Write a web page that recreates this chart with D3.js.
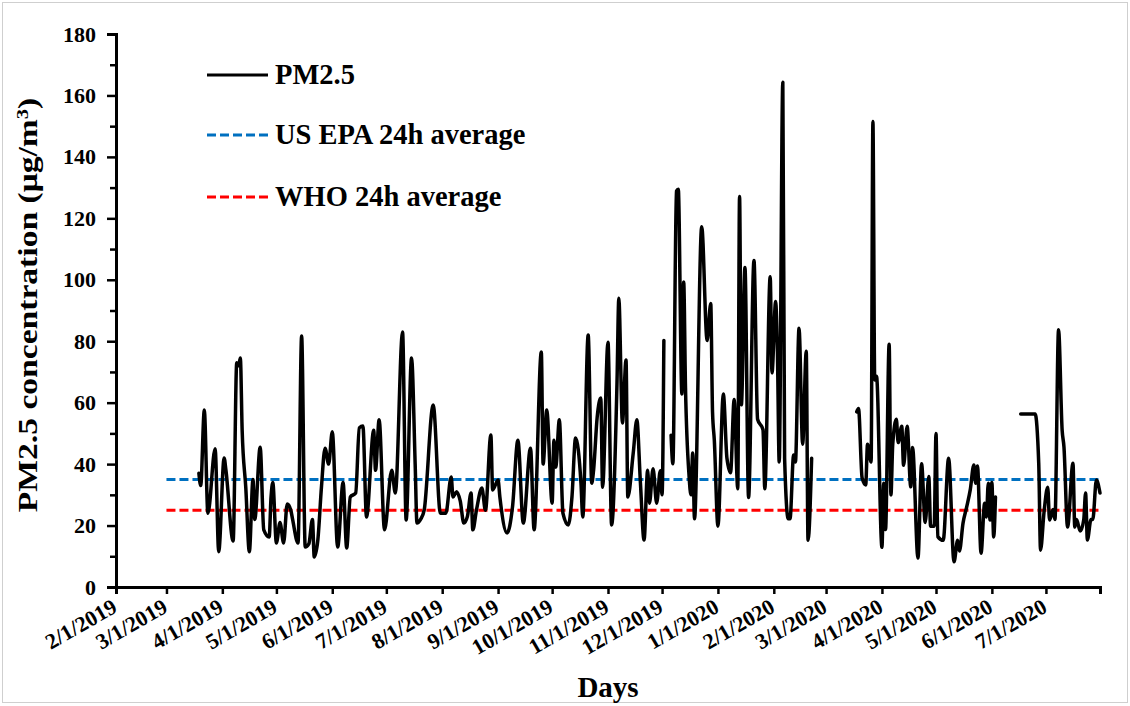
<!DOCTYPE html>
<html><head><meta charset="utf-8">
<script src="https://cdn.jsdelivr.net/npm/d3@7"></script>
<style>
body{margin:0;background:#fff}
text{font-family:"Liberation Serif","Times New Roman",serif;font-weight:bold;fill:#000}
</style>
</head><body><svg id="chart" width="1130" height="706"></svg>
<script>
const dates = [
"2019-03-19","2019-03-20","2019-03-22","2019-03-24","2019-03-28","2019-03-30","2019-04-02","2019-04-03","2019-04-07","2019-04-09",
"2019-04-10","2019-04-11","2019-04-12","2019-04-14","2019-04-16","2019-04-18","2019-04-19","2019-04-22","2019-04-24","2019-04-27",
"2019-04-28","2019-04-29","2019-05-01","2019-05-03","2019-05-05","2019-05-07","2019-05-09","2019-05-10","2019-05-13","2019-05-15",
"2019-05-17","2019-05-19","2019-05-21","2019-05-22","2019-05-24","2019-05-26","2019-05-28","2019-05-30","2019-06-01","2019-06-04",
"2019-06-07","2019-06-09","2019-06-11","2019-06-14","2019-06-16","2019-06-18","2019-06-20","2019-06-24","2019-06-25","2019-06-27",
"2019-06-30","2019-07-04","2019-07-06","2019-07-10","2019-07-12","2019-07-15","2019-07-17","2019-07-18","2019-07-20","2019-07-22",
"2019-07-27","2019-07-31","2019-08-03","2019-08-06","2019-08-07","2019-08-09","2019-08-11","2019-08-13","2019-08-15","2019-08-17",
"2019-08-18","2019-08-20","2019-08-23","2019-08-25","2019-08-28","2019-08-29","2019-09-01","2019-09-02","2019-09-06","2019-09-09",
"2019-09-12","2019-09-15","2019-09-19","2019-09-21","2019-09-25","2019-09-26","2019-09-28","2019-10-01","2019-10-02","2019-10-03",
"2019-10-05","2019-10-07","2019-10-10","2019-10-12","2019-10-14","2019-10-17","2019-10-18","2019-10-21","2019-10-23","2019-10-24",
"2019-10-26","2019-10-28","2019-10-29","2019-11-01","2019-11-03","2019-11-06","2019-11-07","2019-11-09","2019-11-11","2019-11-12",
"2019-11-15","2019-11-17","2019-11-19","2019-11-21","2019-11-23","2019-11-24","2019-11-26","2019-11-28","2019-11-30","2019-12-01",
"2019-12-02","2019-12-04","2019-12-06","2019-12-07","2019-12-09","2019-12-10","2019-12-12","2019-12-13","2019-12-14","2019-12-16",
"2019-12-17","2019-12-18","2019-12-19","2019-12-23","2019-12-26","2019-12-28","2019-12-29","2019-12-30","2020-01-01","2020-01-04",
"2020-01-06","2020-01-08","2020-01-10","2020-01-12","2020-01-13","2020-01-14","2020-01-16","2020-01-18","2020-01-21","2020-01-23",
"2020-01-26","2020-01-27","2020-01-30","2020-01-31","2020-02-02","2020-02-03","2020-02-04","2020-02-06","2020-02-07","2020-02-09",
"2020-02-10","2020-02-12","2020-02-13","2020-02-15","2020-02-17","2020-02-19","2020-02-20","2020-02-22","2020-03-01","2020-03-18",
"2020-03-19","2020-03-21","2020-03-23","2020-03-24","2020-03-26","2020-03-27","2020-03-28","2020-03-29","2020-04-01","2020-04-02",
"2020-04-03","2020-04-05","2020-04-06","2020-04-07","2020-04-09","2020-04-10","2020-04-12","2020-04-13","2020-04-15","2020-04-17",
"2020-04-18","2020-04-21","2020-04-23","2020-04-25","2020-04-27","2020-04-28","2020-04-30","2020-05-01","2020-05-02","2020-05-05",
"2020-05-08","2020-05-11","2020-05-13","2020-05-14","2020-05-16","2020-05-18","2020-05-20","2020-05-22","2020-05-23","2020-05-24",
"2020-05-26","2020-05-28","2020-05-29","2020-05-30","2020-05-31","2020-06-01","2020-06-02","2020-06-03","2020-06-10","2020-06-17",
"2020-06-21","2020-06-25","2020-06-27","2020-06-28","2020-06-30","2020-07-02","2020-07-03","2020-07-05","2020-07-06","2020-07-08",
"2020-07-10","2020-07-11","2020-07-13","2020-07-16","2020-07-17","2020-07-18","2020-07-20","2020-07-22","2020-07-23","2020-07-24",
"2020-07-26","2020-07-27","2020-07-29","2020-07-31"
];
const pm25 = [
37,33,57.6,24,45,11.5,42,38,15,73,
72,74.5,51,32.5,11.5,35,22,45.5,18.6,16.3,
29,34,14.3,21,14.3,27,25,22,14.3,81.7,
13,14,22,9.8,15.3,32.5,45.2,40,50.5,13,
34,12.7,29.3,30.6,51.8,52.4,22.8,51,38,54.4,
18.6,38,30.6,83,21.8,74.5,40,20.8,22,25,
59.2,24,24,35.8,29.3,31,28,20.8,23,30.6,
18.6,25,32.2,25,49.5,31.6,34.8,29.3,17.6,26,
47.8,20.8,45.2,18.6,76.5,40,57.6,27.3,47.8,39,
54.4,24,20.2,29.3,48.5,33.8,22.8,82,33.8,38,
55.3,61.5,32.5,79.7,20.2,66.7,94,53.4,73.9,29.3,
43.6,54.4,33.8,15.3,38,27.3,38.5,27.3,37.8,30,
80.2,null,49.4,40.1,128.9,129.5,62.8,99.3,65,36,
30,43.6,22.2,117.3,80.2,92.3,57,47.7,19.8,62.8,
41.9,37.2,61,32,127.1,59.3,104,29.1,106.3,54.6,
51.2,32,101,69.7,92.9,76.7,40.7,164.3,41.9,22.2,
22.2,43,40.7,84.2,46.5,76.7,15.2,41.9,null,57,
58.1,35.5,33.2,46.5,40.7,151.5,67.4,68.6,12.9,33.8,
18.7,79,30,46.5,54.6,47,52.3,39.6,52.3,32.6,
45.4,9.4,40.1,21,36,19.8,19.8,50,16.4,15.2,
41.9,8.2,15.2,11.7,20.8,26,31.6,39.7,33.8,39.4,
11,27.3,22.8,33.8,21.8,34,16.3,29.3,null,56.3,
56.3,56.3,40.3,12,24.7,32.5,21.8,25.2,22,83.7,
51,45.6,19.5,40.3,19.5,22,18.2,22,30.6,15.3,
22,22,34.8,30.6
];
const xTickDates = ["2019-02-01","2019-03-01","2019-04-01","2019-05-01","2019-06-01","2019-07-01","2019-08-01","2019-09-01","2019-10-01","2019-11-01","2019-12-01","2020-01-01","2020-02-01","2020-03-01","2020-04-01","2020-05-01","2020-06-01","2020-07-01"];
const xDomain = ["2019-02-01","2020-07-31"];
const yTickValues = [0,20,40,60,80,100,120,140,160,180];
const yMinorTicks = [10,30,50,70,90,110,130,150,170];
const epaLimit = 35;
const whoLimit = 25;
const limitSpan = ["2019-03-01","2020-07-31"];
const legendLabels = ["PM2.5","US EPA 24h average","WHO 24h average"];
const colors = {pm:"#000000", epa:"#0070C0", who:"#FF0000"};

const parse = d3.timeParse("%Y-%m-%d");
const svg = d3.select("#chart");
const L = 116, R = 1100, T = 34, B = 587;
const x = d3.scaleTime().domain(xDomain.map(parse)).range([L, R]);
const y = d3.scaleLinear().domain([0,180]).range([B, T]);

svg.append("rect").attr("x",2.5).attr("y",2.5).attr("width",1125).attr("height",700)
  .attr("fill","#fff").attr("stroke","#cfcfcf").attr("stroke-width",1);

// threshold lines
const thr = [{v:epaLimit,c:colors.epa},{v:whoLimit,c:colors.who}];
svg.selectAll("line.thr").data(thr).enter().append("line")
  .attr("x1",x(parse(limitSpan[0]))).attr("x2",x(parse(limitSpan[1])))
  .attr("y1",d=>y(d.v)).attr("y2",d=>y(d.v))
  .attr("stroke",d=>d.c).attr("stroke-width",3).attr("stroke-dasharray","9,4");

// PM2.5 series
const series = dates.map((d,i)=>({date:parse(d), v:pm25[i]}));
const line = d3.line().defined(d=>d.v!=null).x(d=>x(d.date)).y(d=>y(d.v)).curve(d3.curveMonotoneX);
svg.append("path").datum(series).attr("d",line).attr("fill","none")
  .attr("stroke",colors.pm).attr("stroke-width",3.5).attr("stroke-linejoin","round").attr("stroke-linecap","round");

// Y axis
const yAxis = svg.append("g").attr("transform",`translate(${L},0)`)
  .call(d3.axisLeft(y).tickValues(yTickValues).tickSize(9).tickPadding(11).tickFormat(d3.format("d")));
yAxis.select(".domain").attr("stroke","#000").attr("stroke-width",3);
yAxis.selectAll(".tick line").attr("stroke","#000").attr("stroke-width",2.5);
yAxis.selectAll("text").style("font-size","22px").style("font-family",'"Liberation Serif",serif').style("font-weight","bold").attr("fill","#000");
const yMinor = svg.append("g").attr("transform",`translate(${L},0)`)
  .call(d3.axisLeft(y).tickValues(yMinorTicks).tickSize(6).tickFormat(""));
yMinor.select(".domain").remove();
yMinor.selectAll(".tick line").attr("stroke","#000").attr("stroke-width",2.5);

// X axis
const xAxis = svg.append("g").attr("transform",`translate(0,${B})`)
  .call(d3.axisBottom(x).tickValues(xTickDates.map(parse)).tickSize(7).tickFormat(d3.timeFormat("%-m/%-d/%Y")));
xAxis.select(".domain").attr("stroke","#000").attr("stroke-width",3);
xAxis.selectAll(".tick line").attr("stroke","#000").attr("stroke-width",2.5);
xAxis.selectAll("text").style("font-size","22px").style("font-family",'"Liberation Serif",serif').style("font-weight","bold")
  .attr("fill","#000").attr("y",0).attr("dy",0).attr("text-anchor","end")
  .attr("transform","translate(2,24) rotate(-30)");

// Legend
const legendY = [75,135,197];
const legendStyle = [{c:colors.pm,dash:null},{c:colors.epa,dash:"9,4"},{c:colors.who,dash:"9,4"}];
legendLabels.forEach((lab,i)=>{
  svg.append("line").attr("x1",207).attr("x2",268).attr("y1",legendY[i]).attr("y2",legendY[i])
    .attr("stroke",legendStyle[i].c).attr("stroke-width",3).attr("stroke-dasharray",legendStyle[i].dash);
  svg.append("text").attr("x",275).attr("y",legendY[i]+9).style("font-size","28.5px").text(lab);
});

// Axis titles (elongated along its direction, as in the original)
const yt = svg.append("text").attr("transform","translate(37,305) rotate(-90) scale(1.2,1)").attr("text-anchor","middle").style("font-size","28px");
yt.append("tspan").text("PM2.5 concentration  (μg/m");
yt.append("tspan").attr("baseline-shift","super").style("font-size","17px").text("3");
yt.append("tspan").text(")");
svg.append("text").attr("x",608).attr("y",697).attr("text-anchor","middle").style("font-size","29px").text("Days");
</script></body></html>
